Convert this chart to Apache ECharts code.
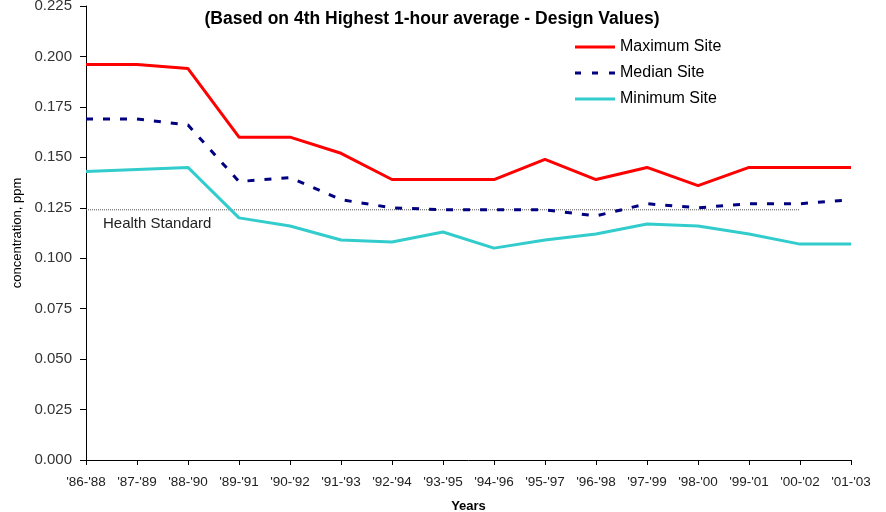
<!DOCTYPE html>
<html>
<head>
<meta charset="utf-8">
<script src="https://cdn.jsdelivr.net/npm/echarts@6/dist/echarts.min.js"></script>
<style>
html,body{margin:0;padding:0;background:#fff;}
#chart{width:886px;height:512px;}
</style>
</head>
<body>
<div id="chart"></div>
<script>
// Three-year periods
var years = ["'86-'88","'87-'89","'88-'90","'89-'91","'90-'92","'91-'93","'92-'94","'93-'95","'94-'96","'95-'97","'96-'98","'97-'99","'98-'00","'99-'01","'00-'02","'01-'03"];

// Design values, ppm
var maximumSite = [0.196,0.196,0.194,0.160,0.160,0.152,0.139,0.139,0.139,0.149,0.139,0.145,0.136,0.145,0.145,0.145];
var medianSite  = [0.169,0.169,0.166,0.138,0.140,0.129,0.125,0.124,0.124,0.124,0.121,0.127,0.125,0.127,0.127,0.129];
var minimumSite = [0.143,0.144,0.145,0.120,0.116,0.109,0.108,0.113,0.105,0.109,0.112,0.117,0.116,0.112,0.107,0.107];

// 1-hour health standard, drawn through '00-'02
var healthStandard = 0.124;
var standardSpan = 15;

var yTicks = {min: 0, max: 0.225, interval: 0.025};

var font = 'Arial, "Liberation Sans", sans-serif';

var standardData = [];
for (var i = 0; i < standardSpan; i++) {
  if (i === 0) {
    standardData.push({
      value: healthStandard,
      label: {
        show: true,
        position: 'right',
        formatter: 'Health Standard',
        offset: [12, 14],
        fontFamily: font,
        fontSize: 15,
        color: '#222'
      }
    });
  } else {
    standardData.push(healthStandard);
  }
}

// Legend swatches: a solid bar and a dashed bar
var solidIcon = 'path://M0,0H40V3H0Z';
var dashedIcon = 'path://M0,0H6V3H0Z M17,0H23V3H17Z M34,0H40V3H34Z';

var chart = echarts.init(document.getElementById('chart'), null, {renderer: 'canvas'});

chart.setOption({
  animation: false,
  backgroundColor: '#fff',
  title: {
    text: '(Based on 4th Highest 1-hour average - Design Values)',
    left: 427,
    textAlign: 'center',
    top: 5,
    textStyle: {fontFamily: font, fontSize: 17.5, fontWeight: 'bold', color: '#000'}
  },
  legend: {
    orient: 'vertical',
    left: 575,
    top: 39,
    padding: 0,
    itemWidth: 40,
    itemHeight: 14,
    itemGap: 10,
    textStyle: {fontFamily: font, fontSize: 16, color: '#000'},
    data: [
      {name: 'Maximum Site', icon: solidIcon},
      {name: 'Median Site', icon: dashedIcon},
      {name: 'Minimum Site', icon: solidIcon}
    ]
  },
  grid: {left: 86, right: 35, top: 6, bottom: 52, containLabel: false, outerBoundsMode: 'none'},
  xAxis: {
    type: 'category',
    data: years,
    boundaryGap: false,
    name: 'Years',
    nameLocation: 'middle',
    nameGap: 40,
    nameTextStyle: {fontFamily: font, fontSize: 13, fontWeight: 'bold', color: '#000'},
    axisLine: {lineStyle: {color: '#000', width: 1}},
    axisTick: {show: true, length: 5, alignWithLabel: true, lineStyle: {color: '#000'}},
    axisLabel: {fontFamily: font, fontSize: 13.5, color: '#222', margin: 15, interval: 0},
    splitLine: {show: false}
  },
  yAxis: {
    type: 'value',
    min: yTicks.min,
    max: yTicks.max,
    interval: yTicks.interval,
    name: 'concentration, ppm',
    nameLocation: 'middle',
    nameGap: 60,
    nameTextStyle: {fontFamily: font, fontSize: 13, color: '#000'},
    axisLine: {show: true, lineStyle: {color: '#000', width: 1}},
    axisTick: {show: true, length: 6, lineStyle: {color: '#000'}},
    axisLabel: {fontFamily: font, fontSize: 15, color: '#333', margin: 14,
      formatter: function (v) { return v.toFixed(3); }},
    splitLine: {show: false}
  },
  series: [
    {
      name: 'Health Standard',
      type: 'line',
      data: standardData,
      symbol: 'circle',
      symbolSize: 0,
      showSymbol: true,
      silent: true,
      z: 1,
      itemStyle: {color: '#555'},
      lineStyle: {color: '#555', width: 1, type: [1, 1]}
    },
    {
      name: 'Maximum Site',
      type: 'line',
      data: maximumSite,
      symbol: 'none',
      z: 3,
      itemStyle: {color: '#ff0000'},
      lineStyle: {color: '#ff0000', width: 3}
    },
    {
      name: 'Median Site',
      type: 'line',
      data: medianSite,
      symbol: 'none',
      z: 3,
      itemStyle: {color: '#000080'},
      lineStyle: {color: '#000080', width: 3, type: [7, 10]}
    },
    {
      name: 'Minimum Site',
      type: 'line',
      data: minimumSite,
      symbol: 'none',
      z: 3,
      itemStyle: {color: '#33cccc'},
      lineStyle: {color: '#33cccc', width: 3}
    }
  ]
});
</script>
</body>
</html>
